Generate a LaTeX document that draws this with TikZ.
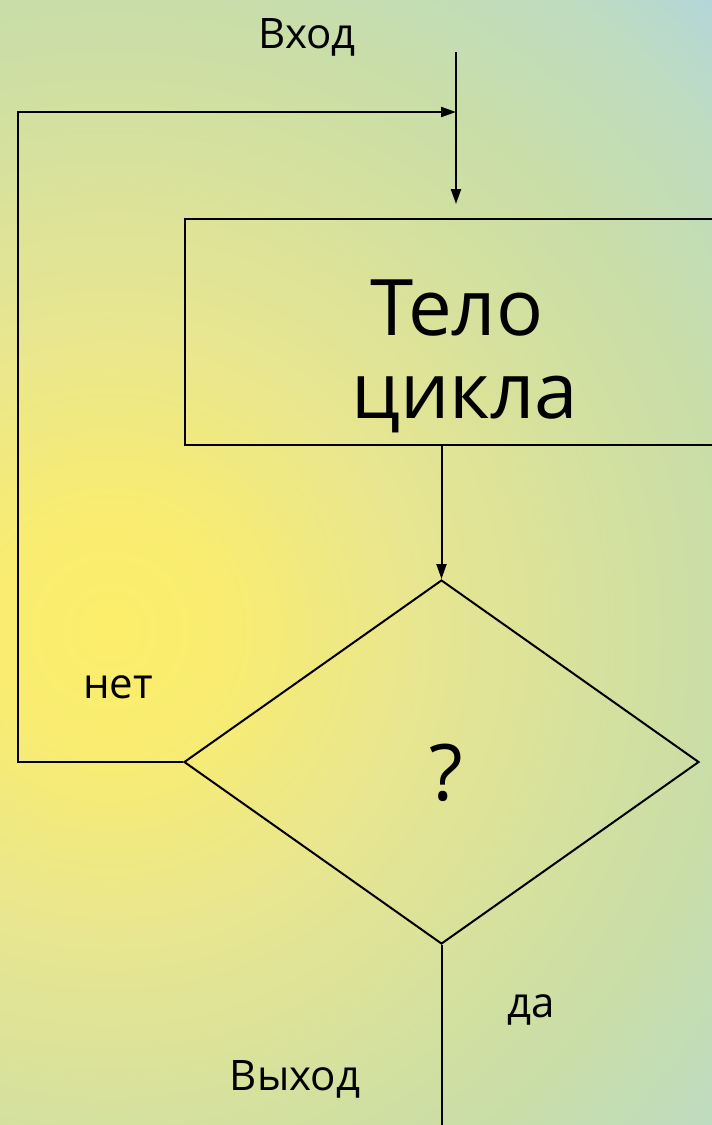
\documentclass[tikz,border=0pt]{standalone}
\usepackage{fontspec}
\setmainfont{Open Sans}
\usetikzlibrary{arrows.meta,shapes.geometric}
\definecolor{c0}{HTML}{FCEE6A}
\definecolor{c1}{HTML}{F8EC72}
\definecolor{c2}{HTML}{E8E690}
\definecolor{c3}{HTML}{D2E0A0}
\definecolor{c4}{HTML}{C8DDAA}
\definecolor{c5}{HTML}{BEDCC0}
\definecolor{c6}{HTML}{B4D6D8}
\pgfdeclareradialshading{bgshade}{\pgfpoint{0bp}{0bp}}{color(0bp)=(c0); color(5bp)=(c1); color(12bp)=(c2); color(20.5bp)=(c3); color(25bp)=(c4); color(30.6bp)=(c5); color(34.2bp)=(c6); color(50bp)=(c6)}
\tikzset{
  conn/.style={line width=2pt, line join=miter},
  arr/.style={conn, -{Triangle[length=15pt,width=10pt]}},
  small/.style={font=\fontsize{42}{46}\selectfont, anchor=base, inner sep=0pt},
  big/.style={font=\fontsize{78}{84}\selectfont, anchor=base, inner sep=0pt},
}
\begin{document}
\begin{tikzpicture}[x=1pt,y=-1pt]
\useasboundingbox (0,0) rectangle (712,1125);
\begin{scope}
\clip (0,0) rectangle (712,1125);
\shade[shading=bgshade] (-526,-6) rectangle (746,1266);
\end{scope}
% nodes
\node[draw, line width=2pt, minimum width=540pt, minimum height=226pt, inner sep=0pt, anchor=north west] (body) at (184,218) {};
\node[big] (t1) at (457,335) {Тело};
\node[big] (t2) at (465,418) {цикла};
\node[draw, diamond, line width=2pt, minimum width=515pt, minimum height=364pt, inner sep=0pt] (dec) at (441.5,762) {};
\node[big] (q) at (446,800) {?};
\node[small] (lin) at (307,48) {Вход};
\node[small] (lno) at (118,698) {нет};
\node[small] (lyes) at (531,1017) {да};
\node[small] (lout) at (295,1090) {Выход};
% coordinates
\coordinate (in) at (456,52);
\coordinate (intop) at (456,204);
\coordinate (join) at (456,112);
\coordinate (lc) at (18,112);
\coordinate (out) at (441.5,1130);
% connectors
\draw[arr] (in) -- (intop);
\draw[arr] (dec.west) -| (lc) -- (join);
\draw[arr] (body.south -| dec.north) -- (dec.north);
\draw[conn] (dec.south) -- (out);
\end{tikzpicture}
\end{document}
